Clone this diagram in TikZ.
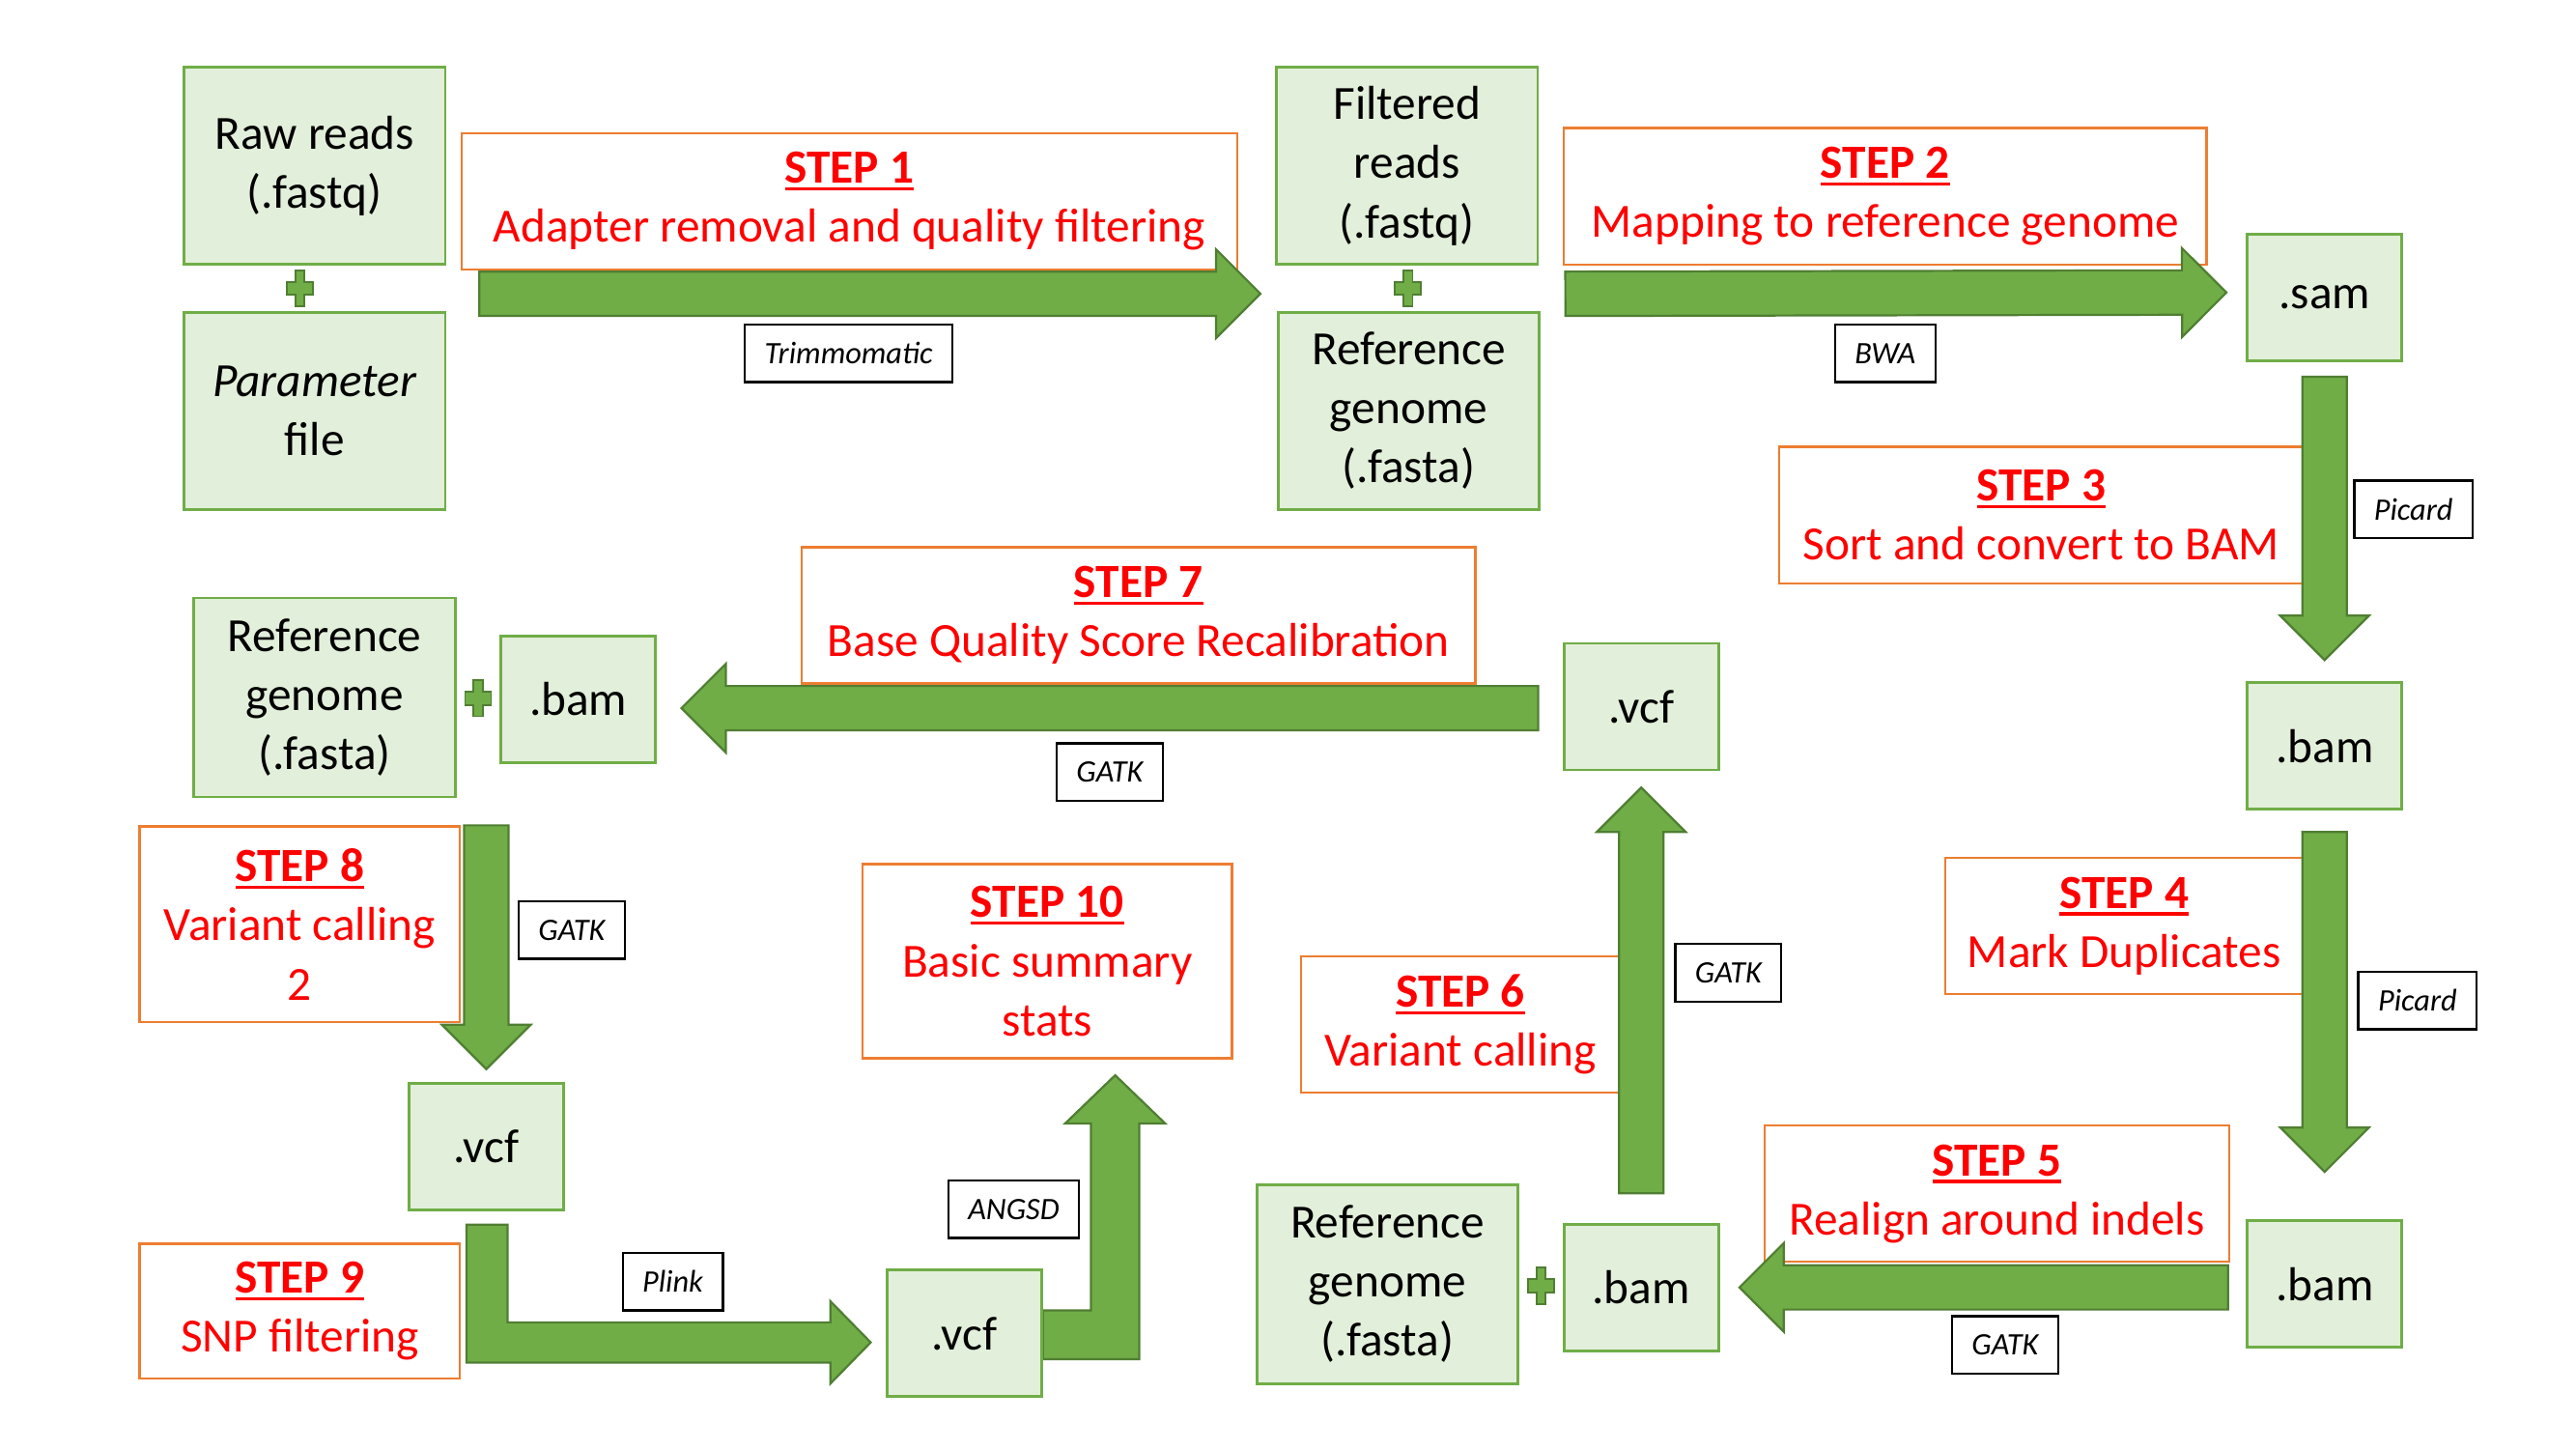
\documentclass[tikz,border=0pt]{standalone}
\usepackage{fontspec}
\setmainfont{Carlito}
\usetikzlibrary{calc}

\definecolor{filefill}{HTML}{E2EFDA}
\definecolor{fileedge}{HTML}{70AD47}
\definecolor{flowfill}{HTML}{70AD47}
\definecolor{flowedge}{HTML}{507E32}
\definecolor{stepedge}{HTML}{ED7D31}
\definecolor{steptext}{HTML}{FF0000}

\pgfdeclarelayer{steplayer}
\pgfdeclarelayer{flowlayer}
\pgfsetlayers{steplayer,flowlayer,main}

\tikzset{
  file/.style={draw=fileedge, fill=filefill, line width=1.6pt, align=center,
    inner sep=0pt, font=\fontsize{29}{36}\selectfont},
  bigfile/.style={file, minimum width=159pt, minimum height=120pt},
  smallfile/.style={file, minimum width=94pt, minimum height=77pt},
  stepbox/.style={draw=stepedge, fill=white, line width=1.4pt, text=steptext,
    align=center, inner sep=0pt, font=\fontsize{29}{36}\selectfont},
  tool/.style={draw=black, fill=white, line width=1.4pt, inner xsep=12pt,
    inner ysep=0pt, minimum height=35pt, font=\fontsize{19}{22}\selectfont\itshape},
  flow/.style={draw=flowedge, fill=flowfill, line width=1.3pt, line join=miter},
  plusmark/.style={draw=flowedge, fill=flowfill, line width=1pt},
  plus sign/.pic={
    \path[plusmark] (-2.8,-11) -- (2.8,-11) -- (2.8,-4) -- (8,-4) -- (8,4)
      -- (2.8,4) -- (2.8,11) -- (-2.8,11) -- (-2.8,4) -- (-8,4) -- (-8,-4)
      -- (-2.8,-4) -- cycle;
  }
}

\newsavebox\ttlbox
\newcommand\stepttl[1]{\sbox\ttlbox{\textbf{#1}}%
  \rlap{\rule[-4.5pt]{\wd\ttlbox}{2pt}}\usebox\ttlbox}

% block arrow from #1 to #2 (tip at #2)
\newcommand\flowarrow[2]{%
  \path (#1) coordinate (fa-s) (#2) coordinate (fa-e);
  \path ($(fa-e)!27pt!(fa-s)$) coordinate (fa-h);
  \path[flow] ($(fa-s)!13.5pt!90:(fa-e)$) -- ($(fa-h)!13.5pt!90:(fa-e)$)
    -- ($(fa-h)!27pt!90:(fa-e)$) -- (fa-e) -- ($(fa-h)!27pt!-90:(fa-e)$)
    -- ($(fa-h)!13.5pt!-90:(fa-e)$) -- ($(fa-s)!13.5pt!-90:(fa-e)$) -- cycle;}

\begin{document}
\begin{tikzpicture}[x=1pt, y=-1pt]
\useasboundingbox (0,0) rectangle (1568,882);

% steps
\begin{pgfonlayer}{steplayer}
\node[stepbox, minimum width=472pt, minimum height=83pt] (stp1) at (517,122.5)
  {\stepttl{STEP 1}\\Adapter removal and quality filtering};
\node[stepbox, minimum width=391pt, minimum height=83pt] (stp2) at (1147.5,119.5)
  {\stepttl{STEP 2}\\Mapping to reference genome};
\node[stepbox, minimum width=319pt, minimum height=83pt] (stp3) at (1242.5,313.5)
  {\stepttl{STEP 3}\\Sort and convert to BAM};
\node[stepbox, minimum width=218pt, minimum height=83pt] (stp4) at (1293,563.5)
  {\stepttl{STEP 4}\\Mark Duplicates};
\node[stepbox, minimum width=283pt, minimum height=83pt] (stp5) at (1215.5,726.5)
  {\stepttl{STEP 5}\\Realign around indels};
\node[stepbox, minimum width=194pt, minimum height=83pt] (stp6) at (889,623.5)
  {\stepttl{STEP 6}\\Variant calling};
\node[stepbox, minimum width=410pt, minimum height=83pt] (stp7) at (693,374.5)
  {\stepttl{STEP 7}\\Base Quality Score Recalibration};
\node[stepbox, minimum width=195pt, minimum height=119pt] (stp8) at (182.5,562.5)
  {\stepttl{STEP 8}\\Variant calling\\2};
\node[stepbox, minimum width=195pt, minimum height=82pt] (stp9) at (182.5,798)
  {\stepttl{STEP 9}\\SNP filtering};
\node[stepbox, minimum width=225pt, minimum height=118pt] (stp10) at (637.5,585)
  {\stepttl{STEP 10}\\Basic summary\\stats};
\end{pgfonlayer}

% files
\node[bigfile] (raw) at (191.5,101) {Raw reads\\(.fastq)};
\node[bigfile] (param) at (191.5,250) {\textit{Parameter}\\file};
\node[bigfile] (filt) at (856.5,101) {Filtered\\reads\\(.fastq)};
\node[bigfile] (ref1) at (857.5,250) {Reference\\genome\\(.fasta)};
\node[smallfile] (sam) at (1415,181) {.sam};
\node[smallfile] (bam1) at (1415,454) {.bam};
\node[smallfile] (bam2) at (1415,781.5) {.bam};
\node[smallfile] (bam3) at (999,783.5) {.bam};
\node[bigfile, minimum height=121pt] (ref2) at (844.5,781.5) {Reference\\genome\\(.fasta)};
\node[smallfile] (vcf1) at (999,430) {.vcf};
\node[bigfile, minimum height=121pt] (ref3) at (197.5,424.5) {Reference\\genome\\(.fasta)};
\node[smallfile] (bam4) at (352,425.5) {.bam};
\node[smallfile] (vcf2) at (296,698) {.vcf};
\node[smallfile] (vcf3) at (587,811.5) {.vcf};

\pic at ($(raw.south)!.5!(param.north)+(-9,0)$) {plus sign};
\pic at ($(filt.south)!.5!(ref1.north)$) {plus sign};
\pic at ($(ref3.east)!.5!(bam4.west)$) {plus sign};
\pic at ($(ref2.east)!.5!(bam3.west)$) {plus sign};

% arrows
\begin{pgfonlayer}{flowlayer}
\flowarrow{$(raw.south east)+(20,17)$}{$(filt.south west)+(-9,17)$}
\flowarrow{$(filt.south east)+(16,17)$}{$(sam.west)+(-12,-3)$}
\flowarrow{$(sam.south)+(0,9)$}{$(bam1.north)+(0,-13)$}
\flowarrow{$(bam1.south)+(0,13)$}{$(bam2.north)+(0,-29)$}
\flowarrow{$(bam2.west)+(-11,2)$}{$(bam3.east)+(12,0)$}
\flowarrow{$(bam3.north)+(0,-18)$}{$(vcf1.south)+(0,10)$}
\flowarrow{$(vcf1.west)+(-15,1)$}{$(bam4.east)+(15,5.5)$}
\flowarrow{vcf2.north |- stp8.north}{$(vcf2.north)+(0,-8)$}
\path[flow] ($(vcf2.south)+(-12,8)$) -- ++(0,84) -- ++(221.5,0) -- ++(0,12.7)
  -- ++(24.5,-25) -- ++(-24.5,-25) -- ++(0,12.8) -- ++(-196.5,0) -- ++(0,-59.5) -- cycle;
\path[flow] ($(vcf3.east)+(0,-14)$) -- ++(29.3,0) -- ++(0,-113.7) -- ++(-15.8,0)
  -- ++(30.5,-29.4) -- ++(30.5,29.4) -- ++(-15.8,0) -- ++(0,143.4) -- ++(-58.7,0) -- cycle;
\end{pgfonlayer}

% tools
\node[tool] (trim) at (516.5,215) {Trimmomatic};
\node[tool] (bwa) at (1147.5,215) {BWA};
\node[tool] (pic1) at (1469,310) {Picard};
\node[tool] (pic2) at (1471.5,609) {Picard};
\node[tool] (gatk5) at (1220.5,818.5) {GATK};
\node[tool] (gatk6) at (1052,592) {GATK};
\node[tool] (gatk7) at (675.5,470) {GATK};
\node[tool] (gatk8) at (348,566) {GATK};
\node[tool] (plink) at (409.5,780) {Plink};
\node[tool] (angsd) at (617,736) {ANGSD};
\end{tikzpicture}
\end{document}
